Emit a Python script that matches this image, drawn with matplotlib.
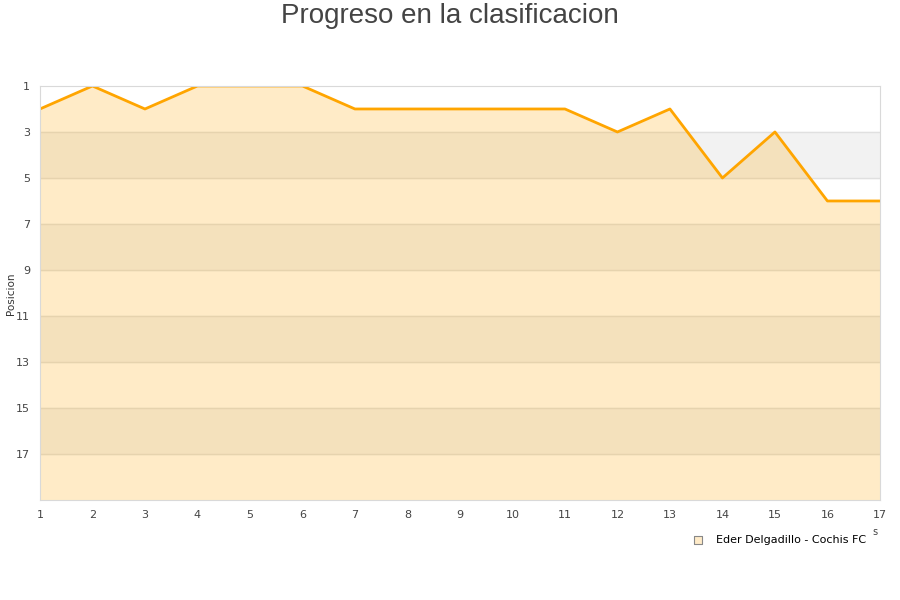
import matplotlib.pyplot as plt
import numpy as np

jornadas = [1, 2, 3, 4, 5, 6, 7, 8, 9, 10, 11, 12, 13, 14, 15, 16, 17]
posicion = [2, 1, 2, 1, 1, 1, 2, 2, 2, 2, 2, 3, 2, 5, 3, 6, 6]
y_ticks = [1, 3, 5, 7, 9, 11, 13, 15, 17]
equipo = "Eder Delgadillo - Cochis FC"

fig = plt.figure(figsize=(9, 6), dpi=100)
ax = fig.add_axes([0.0444, 0.1667, 0.9333, 0.69])

# bandas alternas de fondo
for y0 in [3, 7, 11, 15]:
    ax.axhspan(y0, y0 + 2, color='#f2f2f2', zorder=0)
for y in y_ticks[1:]:
    ax.axhline(y, color='#e0e0e0', lw=1, zorder=0.5)

ax.fill_between(jornadas, posicion, 19, color='#ffa500', alpha=0.22, lw=0, zorder=1)
ax.plot(jornadas, posicion, color='#ffa500', lw=2, zorder=2)

ax.set_xlim(1, 17)
ax.set_ylim(19, 1)
ax.set_xticks(jornadas)
ax.set_yticks(y_ticks)
ax.tick_params(length=0, labelsize=8, colors='#444444', pad=7)
for s in ax.spines.values():
    s.set_color('#d9d9d9')

fig.text(0.012, 0.51, "Posicion", rotation=90, fontsize=7.5, color='#333333',
         ha='center', va='center')
fig.text(0.5, 0.974, "Progreso en la clasificacion", ha='center', va='center',
         fontsize=20, color='#444444', family='Liberation Sans')
fig.text(0.972, 0.108, "s", fontsize=7, color='#444444', ha='center')

ax.scatter([], [], marker='s', s=40, facecolor='#ffebc8', edgecolor='#888888',
           linewidths=0.8, label=equipo)
ax.legend(loc='upper right', bbox_to_anchor=(0.99, -0.07), frameon=False,
          fontsize=8, handletextpad=0.6, borderpad=0)

fig.savefig("out.png", dpi=100)
